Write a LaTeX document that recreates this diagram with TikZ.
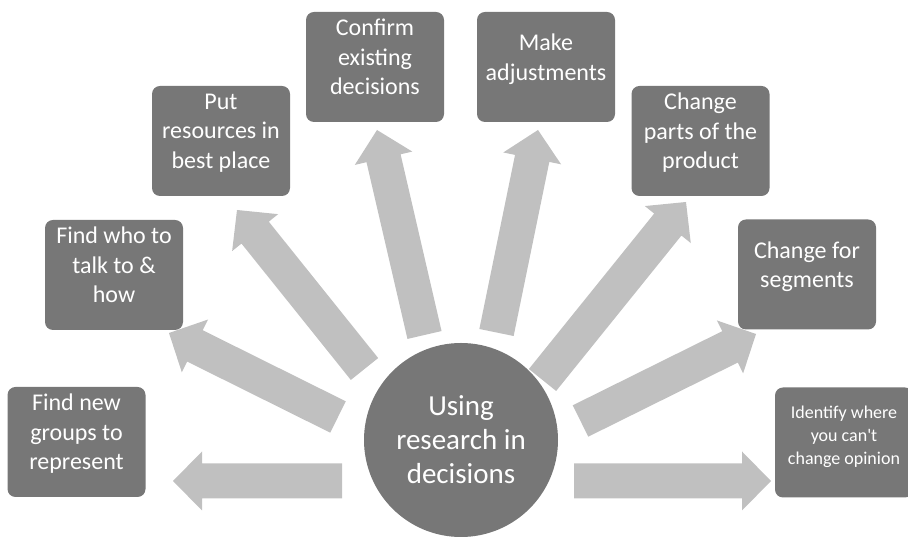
\documentclass[tikz,border=0pt]{standalone}
\usepackage{fontspec}
\setmainfont{Carlito}
\usetikzlibrary{calc}
\definecolor{slate}{HTML}{777777}
\definecolor{mist}{HTML}{C0C0C0}

\tikzset{
  goal/.style={fill=slate, rounded corners=8pt, minimum width=138pt,
    minimum height=110pt, align=center, text=white, inner sep=2pt,
    font=\fontsize{24}{29.5}\selectfont,
    execute at begin node=\rule{0pt}{0.75em},
    execute at end node=\rule[-0.83em]{0pt}{0.83em}},
  hub/.style={circle, fill=slate, minimum size=194pt, inner sep=0pt,
    align=center, text=white, font=\fontsize{29}{34}\selectfont},
  spoke/.style={fill=mist}
}

% broad block arrow from a tail point to a tip point
\newcommand{\blockarrow}[2]{%
  \coordinate (#1-base) at ($(#2)!29pt!(#1)$);
  \fill[spoke] ($(#1)!17.5pt!90:(#2)$) -- ($(#1-base)!17.5pt!90:(#2)$)
    -- ($(#1-base)!29.5pt!90:(#2)$) -- (#2)
    -- ($(#1-base)!29.5pt!-90:(#2)$) -- ($(#1-base)!17.5pt!-90:(#2)$)
    -- ($(#1)!17.5pt!-90:(#2)$) -- cycle;
}

\begin{document}
\begin{tikzpicture}[x=1pt,y=1pt]
  \useasboundingbox (0,0) rectangle (908,537);

  % centre
  \node[hub] (hub) at (461,97) {Using\\research in\\decisions};

  % outcomes
  \node[goal] (groups)    at (76.5,95)  {Find new\\groups to\\represent};
  \node[goal] (who)       at (114,262)  {Find who to\\talk to \&\\how};
  \node[goal] (resources) at (221,396)  {Put\\resources in\\best place};
  \node[goal] (confirm)   at (375,470)  {Confirm\\existing\\decisions};
  \node[goal] (adjust)    at (546,470)  {Make\\adjustments};
  \node[goal] (parts)     at (700.5,396) {Change\\parts of the\\product};
  \node[goal] (segments)  at (807,262.5) {Change for\\segments};
  \node[goal, font=\fontsize{18}{23}\selectfont] (opinion) at (844,94.5)
    {Identify where\\you can\textquotesingle t\\change opinion};

  % arrow ends
  \foreach \n/\tx/\ty/\hx/\hy in {
    groups/342/56/173/56,
    who/338/120/169/204,
    resources/364.5/168/237/327,
    confirm/424.5/202/377/407,
    adjust/496.5/204.5/538/407,
    parts/542.5/157/686/335,
    segments/580.5/116/756/203,
    opinion/574/56/771/56}
  {
    \coordinate (\n-tail) at (\tx,\ty);
    \coordinate (\n-tip) at (\hx,\hy);
    \blockarrow{\n-tail}{\n-tip}
  }
\end{tikzpicture}
\end{document}
